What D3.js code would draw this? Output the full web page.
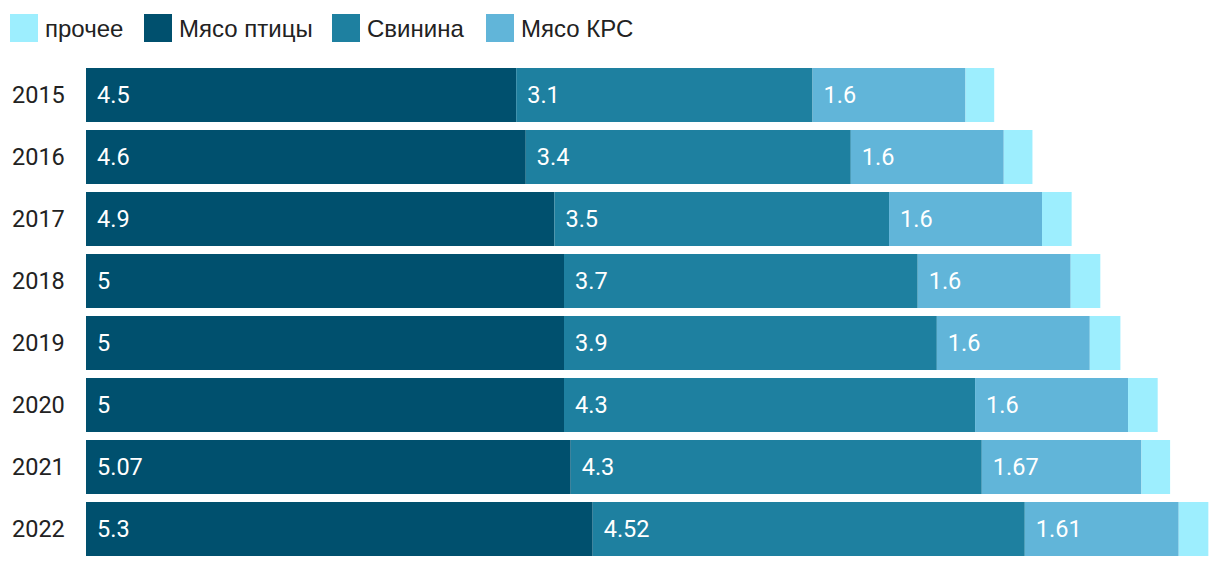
<!DOCTYPE html>
<html><head><meta charset="utf-8">
<script src="https://cdn.jsdelivr.net/npm/d3@7"></script>
<style>body{margin:0;background:#fff}</style>
</head><body>
<script>
const years = ["2015","2016","2017","2018","2019","2020","2021","2022"];
const poultry = [4.5, 4.6, 4.9, 5, 5, 5, 5.07, 5.3];
const pork = [3.1, 3.4, 3.5, 3.7, 3.9, 4.3, 4.3, 4.52];
const beef = [1.6, 1.6, 1.6, 1.6, 1.6, 1.6, 1.67, 1.61];
const other = [0.3, 0.3, 0.31, 0.31, 0.32, 0.31, 0.3, 0.31];
const seriesNames = ["Мясо птицы", "Свинина", "Мясо КРС", "прочее"];
const legendOrder = ["прочее", "Мясо птицы", "Свинина", "Мясо КРС"];
const colors = {"Мясо птицы":"#00506e","Свинина":"#1e80a0","Мясо КРС":"#61b5d9","прочее":"#9deefe"};

const W = 1220, H = 568;
const svg = d3.select("body").append("svg").attr("width", W).attr("height", H);

const data = years.map((y,i)=>({year:y,"Мясо птицы":poultry[i],"Свинина":pork[i],"Мясо КРС":beef[i],"прочее":other[i]}));
const stack = d3.stack().keys(seriesNames)(data);

const x = d3.scaleLinear().domain([0, 10]).range([86, 86+956]);
const y = d3.scaleBand().domain(years).range([68-4, 556+4]).paddingInner(8/62).paddingOuter(4/62);

svg.append("g").selectAll("g").data(stack).join("g")
  .attr("fill", d=>colors[d.key])
  .selectAll("rect").data(d=>d).join("rect")
  .attr("x", d=>x(d[0])).attr("width", d=>x(d[1])-x(d[0]))
  .attr("y", d=>y(d.data.year)).attr("height", y.bandwidth());

svg.append("g").selectAll("g").data(stack.filter(s=>s.key!=="прочее")).join("g")
  .selectAll("text").data(d=>d).join("text")
  .attr("x", d=>x(d[0])+11).attr("y", d=>y(d.data.year)+y.bandwidth()/2)
  .attr("dy","0.36em")
  .attr("fill","#fff").attr("font-family","Roboto").attr("font-size",23.5)
  .text((d,i,n)=>{const key=d3.select(n[i].parentNode).datum().key; return d.data[key];});

svg.append("g").selectAll("text").data(years).join("text")
  .attr("x", 12).attr("y", d=>y(d)+y.bandwidth()/2).attr("dy","0.36em")
  .attr("fill","#222").attr("font-family","Roboto").attr("font-size",23.5)
  .text(d=>d);

const legX = [10, 144, 332, 486];
const lg = svg.append("g").selectAll("g").data(legendOrder).join("g")
  .attr("transform",(d,i)=>`translate(${legX[i]},14)`);
lg.append("rect").attr("width",28).attr("height",28).attr("fill",d=>colors[d]);
lg.append("text").attr("x",35).attr("y",14).attr("dy","0.36em")
  .attr("font-family","Liberation Sans, Arial, sans-serif").attr("font-size",24).attr("fill","#222")
  .text(d=>d);
</script>
</body></html>
